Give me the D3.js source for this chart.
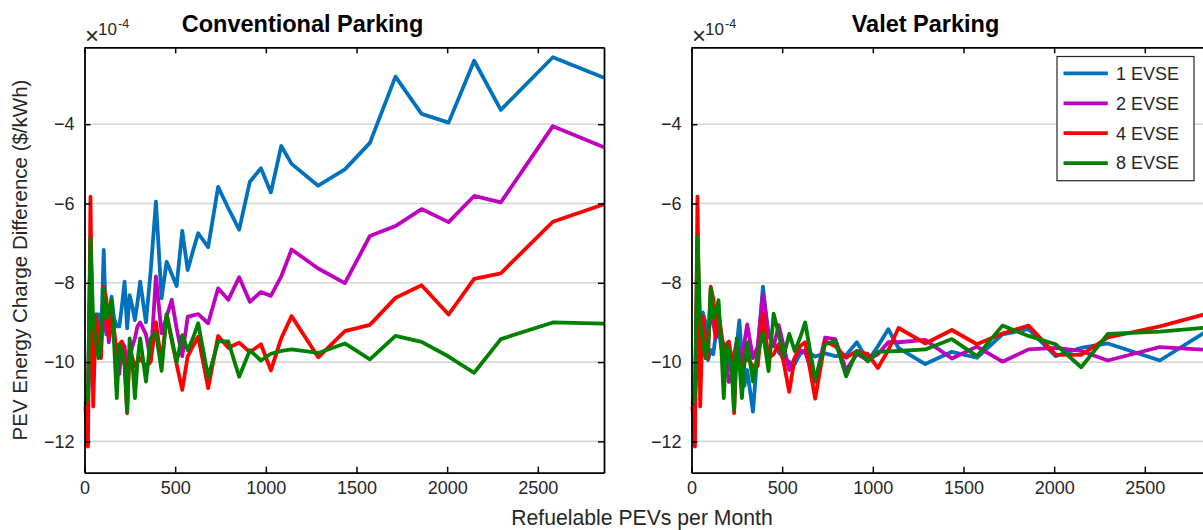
<!DOCTYPE html>
<html>
<head>
<meta charset="utf-8">
<script src="https://cdn.jsdelivr.net/npm/d3@7"></script>
<style>
  html, body { margin: 0; padding: 0; background: #fff; }
  svg { display: block; font-family: "Liberation Sans", Arial, Helvetica, sans-serif; }
</style>
</head>
<body>
<svg id="chart" width="1203" height="530"></svg>
<script>
// Refuelable PEVs per month (shared by every series)
const pevsPerMonth = [5, 19, 33, 48, 62, 77, 91, 106, 120, 134, 149, 163, 178, 192, 206, 221, 235, 249, 264, 278, 292, 307,
  339, 365, 394, 425, 453, 481, 508, 539, 569, 598, 627,
  682, 737, 793, 853, 912, 973, 1028, 1085, 1142,
  1289, 1436, 1574, 1715, 1859, 2008, 2149, 2296,
  2583, 2865];

// Energy charge difference, in units of 1e-4 $/kWh
const conv1 = [-11.08, -10.9, -9.8, -9.0, -8.8, -8.8, -9.5, -7.17, -9.3, -9.0, -8.35, -8.9, -9.1, -9.1, -8.6, -7.97, -9.15, -8.31, -8.6, -8.94, -8.5, -7.97,
  -9.0, -7.7, -5.95, -8.39, -7.47, -7.78, -8.08, -6.69, -7.68, -7.2, -6.75,
  -7.1, -5.58, -6.12, -6.66, -5.45, -5.11, -5.72, -4.55, -5.0,
  -5.55, -5.14, -4.47, -2.8, -3.74, -3.96, -2.4, -3.64,
  -2.31, -2.83];
const conv2 = [-11.1, -11.0, -7.0, -10.0, -9.3, -9.6, -9.0, -9.2, -8.5, -9.5, -9.0, -9.2, -10.2, -10.3, -9.5, -9.6, -10.3, -9.9, -9.6, -9.4, -9.1, -9.0,
  -9.3, -9.95, -7.84, -9.27, -8.85, -8.43, -9.15, -9.85, -8.86, -8.82, -8.79,
  -9.02, -8.14, -8.43, -7.86, -8.48, -8.23, -8.33, -7.84, -7.16,
  -7.64, -8.01, -6.82, -6.57, -6.14, -6.47, -5.81, -5.97,
  -4.05, -4.58];
const conv4 = [-11.12, -12.13, -5.83, -11.12, -8.85, -9.4, -9.9, -8.1, -8.4, -9.36, -8.77, -9.2, -9.8, -9.55, -9.48, -9.9, -11.29, -9.7, -9.9, -10.1, -10.0, -9.9,
  -10.12, -9.99, -9.0, -10.03, -8.81, -9.45, -10.05, -10.7, -9.86, -9.6, -9.36,
  -10.66, -9.34, -9.64, -9.51, -9.75, -9.55, -10.21, -9.4, -8.84,
  -9.88, -9.22, -9.06, -8.38, -8.06, -8.8, -7.9, -7.76,
  -6.46, -6.02];
const conv8 = [-11.05, -10.85, -6.88, -9.0, -9.44, -9.9, -9.6, -8.14, -8.9, -8.7, -8.43, -9.5, -10.91, -9.57, -9.7, -10.1, -11.25, -9.4, -10.0, -10.91, -10.0, -9.4,
  -10.49, -9.4, -9.26, -10.22, -8.79, -9.4, -10.0, -9.32, -9.7, -9.4, -9.02,
  -10.38, -9.48, -9.48, -10.37, -9.7, -9.96, -9.79, -9.72, -9.68,
  -9.77, -9.53, -9.93, -9.34, -9.49, -9.86, -10.27, -9.42,
  -9.0, -9.03];

const valet1 = [-11.1, -11.0, -9.6, -8.9, -8.75, -9.0, -9.95, -9.7, -9.8, -9.3, -9.1, -9.6, -9.9, -9.6, -10.2, -9.9, -10.3, -9.6, -8.95, -9.9, -10.6, -10.2,
  -11.25, -9.7, -8.1, -9.35, -9.5, -9.75, -9.9, -10.0, -10.05, -9.8, -9.7,
  -9.86, -9.78, -9.85, -9.82, -9.5, -9.97, -9.6, -9.17, -9.65,
  -10.05, -9.74, -9.89, -9.3, -9.17, -9.85, -9.64, -9.53,
  -9.96, -9.15];
const valet2 = [-11.1, -11.0, -7.5, -9.6, -9.2, -9.6, -9.4, -8.8, -9.0, -9.4, -8.9, -9.3, -9.6, -10.0, -10.5, -10.45, -9.8, -9.5, -9.7, -10.2, -9.5, -9.05,
  -9.9, -9.6, -8.3, -9.3, -9.6, -9.07, -9.6, -10.2, -9.9, -9.7, -9.75,
  -10.5, -9.38, -9.42, -10.2, -9.8, -9.95, -9.8, -9.5, -9.5,
  -9.44, -9.91, -9.61, -9.99, -9.68, -9.64, -9.72, -9.96,
  -9.62, -9.7];
const valet4 = [-11.12, -12.13, -5.83, -11.12, -8.85, -9.4, -9.9, -8.1, -8.4, -9.36, -8.77, -9.2, -9.8, -9.55, -9.48, -9.9, -11.29, -9.7, -9.9, -10.1, -10.0, -9.9,
  -10.1, -10.1, -8.78, -9.9, -9.8, -9.55, -10.0, -10.75, -9.9, -9.6, -9.5,
  -10.92, -9.47, -9.6, -9.89, -9.72, -9.8, -10.15, -9.7, -9.14,
  -9.53, -9.19, -9.55, -9.28, -9.08, -9.81, -9.82, -9.38,
  -9.1, -8.75];
const valet8 = [-11.05, -10.85, -6.85, -9.0, -9.44, -9.9, -9.6, -8.14, -8.9, -8.7, -8.44, -9.5, -10.91, -9.57, -9.7, -10.1, -11.21, -9.4, -10.0, -10.91, -10.0, -9.5,
  -10.49, -9.8, -9.25, -10.23, -8.78, -9.3, -9.85, -9.29, -9.72, -9.4, -9.0,
  -10.45, -9.55, -9.47, -10.36, -9.72, -9.98, -9.74, -9.73, -9.72,
  -9.68, -9.42, -9.85, -9.08, -9.34, -9.55, -10.13, -9.29,
  -9.23, -9.12];

const seriesNames = ["1 EVSE", "2 EVSE", "4 EVSE", "8 EVSE"];
const seriesColors = ["#0072BD", "#BF00BF", "#FF0000", "#008000"];
const xTicks = [0, 500, 1000, 1500, 2000, 2500];
const yTicks = [-12, -10, -8, -6, -4];
const xDomain = [0, 2865];
const yDomain = [-12.79, -2.06];

const panels = [
  { title: "Conventional Parking", left: 84.5, titleX: 302.5, data: [conv1, conv2, conv4, conv8], legend: false },
  { title: "Valet Parking", left: 691.5, titleX: 925.5, data: [valet1, valet2, valet4, valet8], legend: true }
];

const svg = d3.select("#chart");
const plotTop = 47.3, plotW = 519.5, plotH = 425.4;
const x = d3.scaleLinear().domain(xDomain).range([0, plotW]);
const y = d3.scaleLinear().domain(yDomain).range([plotH, 0]);
const tickColor = "#262626";

panels.forEach(p => {
  const g = svg.append("g").attr("transform", `translate(${p.left},${plotTop})`);

  // horizontal grid
  g.append("g").selectAll("line").data(yTicks).join("line")
    .attr("x1", 0).attr("x2", plotW)
    .attr("y1", d => y(d)).attr("y2", d => y(d))
    .attr("stroke", "#d6d6d6").attr("stroke-width", 1.6);

  // series
  const line = d3.line().x((d, i) => x(pevsPerMonth[i])).y(d => y(d));
  p.data.forEach((vals, k) => {
    g.append("path").datum(vals)
      .attr("d", line)
      .attr("fill", "none")
      .attr("stroke", seriesColors[k])
      .attr("stroke-width", 3.8)
      .attr("stroke-linejoin", "round");
  });

  // axes (ticks point inward on all four sides)
  const styleAxis = sel => {
    sel.select(".domain").attr("stroke", "#000").attr("stroke-width", 1.8);
    sel.selectAll(".tick line").attr("stroke", "#000").attr("stroke-width", 1.5);
    sel.selectAll(".tick text").attr("fill", tickColor).style("font-size", "18px")
      .style("font-family", "'Liberation Sans', Arial, Helvetica, sans-serif");
  };
  g.append("g").attr("transform", `translate(0,${plotH})`)
    .call(d3.axisBottom(x).tickValues(xTicks).tickSizeInner(-6).tickSizeOuter(0).tickPadding(9).tickFormat(d3.format("d")))
    .call(styleAxis);
  g.append("g")
    .call(d3.axisTop(x).tickValues(xTicks).tickSizeInner(-6).tickSizeOuter(0).tickFormat(""))
    .call(styleAxis);
  g.append("g")
    .call(d3.axisLeft(y).tickValues(yTicks).tickSizeInner(-6).tickSizeOuter(0).tickPadding(10).tickFormat(d3.format("d")))
    .call(styleAxis);
  g.append("g").attr("transform", `translate(${plotW},0)`)
    .call(d3.axisRight(y).tickValues(yTicks).tickSizeInner(-6).tickSizeOuter(0).tickFormat(""))
    .call(styleAxis);

  // exponent label
  const ex = g.append("g").attr("fill", tickColor);
  ex.append("text").attr("x", 0.5).attr("y", -3).style("font-size", "24px").style("font-weight", "300").text("\u00d7");
  ex.append("text").attr("x", 13.5).attr("y", -12).style("font-size", "17px").text("10");
  ex.append("text").attr("x", 33.5).attr("y", -19.5).style("font-size", "12.5px").text("-4");

  // title
  svg.append("text").attr("x", p.titleX).attr("y", 32)
    .attr("text-anchor", "middle").style("font-size", "23.5px").style("font-weight", "bold")
    .attr("fill", "#000").text(p.title);

  if (p.legend) {
    const lg = svg.append("g").attr("transform", "translate(1057,56.5)");
    lg.append("rect").attr("width", 137).attr("height", 124.2)
      .attr("fill", "#fff").attr("stroke", "#262626").attr("stroke-width", 1.2);
    seriesNames.forEach((name, k) => {
      const yy = 16.9 + k * 29.9;
      lg.append("line").attr("x1", 6.5).attr("x2", 50.8).attr("y1", yy).attr("y2", yy)
        .attr("stroke", seriesColors[k]).attr("stroke-width", 3.8);
      lg.append("text").attr("x", 59).attr("y", yy).attr("dy", "0.35em")
        .style("font-size", "18px").attr("fill", tickColor).text(name);
    });
  }
});

// shared axis labels
svg.append("text").attr("x", 642).attr("y", 525).attr("text-anchor", "middle")
  .style("font-size", "21.2px").attr("fill", tickColor).text("Refuelable PEVs per Month");
svg.append("text").attr("transform", "translate(26.5,260) rotate(-90)").attr("text-anchor", "middle")
  .style("font-size", "20.5px").attr("fill", tickColor).text("PEV Energy Charge Difference ($/kWh)");
</script>
</body>
</html>
